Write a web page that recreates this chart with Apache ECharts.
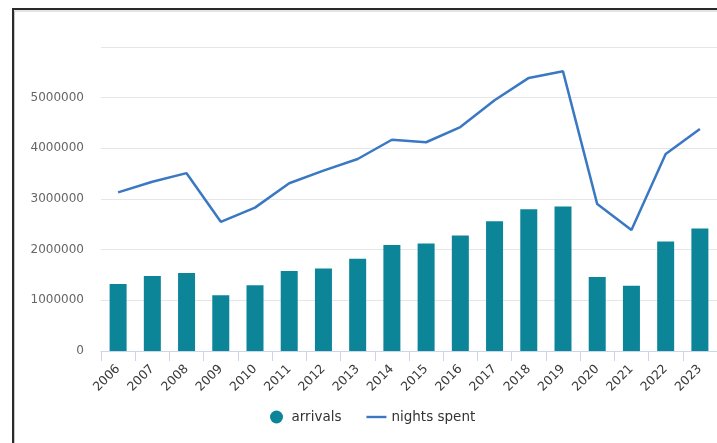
<!DOCTYPE html>
<html>
<head>
<meta charset="utf-8">
<title>Arrivals and nights spent</title>
<script src="https://cdn.jsdelivr.net/npm/echarts@6/dist/echarts.min.js"></script>
<style>
  html, body { margin: 0; padding: 0; background: #fff; }
  #chart { width: 717px; height: 443px; }
</style>
</head>
<body>
<div id="chart"></div>
<script>
// Years on the category axis
const years = ['2006','2007','2008','2009','2010','2011','2012','2013','2014',
               '2015','2016','2017','2018','2019','2020','2021','2022','2023'];

// Tourist arrivals per year
const arrivals = [1320000, 1480000, 1540000, 1100000, 1300000, 1580000, 1630000, 1820000, 2090000,
                  2120000, 2280000, 2560000, 2800000, 2850000, 1460000, 1290000, 2160000, 2420000];

// Nights spent per year
const nightsSpent = [3130000, 3340000, 3510000, 2550000, 2830000, 3310000, 3560000, 3790000, 4170000,
                     4120000, 4420000, 4950000, 5390000, 5520000, 2900000, 2390000, 3890000, 4380000];

// Value-axis tick settings
const yMin = 0;
const yMax = 6000000;
const yStep = 1000000;

const FONT = 'DejaVu Sans';
const BAR_COLOR = '#0c8599';
const LINE_COLOR = '#3a78c3';

const chart = echarts.init(document.getElementById('chart'), null, { renderer: 'canvas' });

chart.setOption({
  animation: false,
  backgroundColor: '#ffffff',
  textStyle: { fontFamily: FONT },
  grid: { left: 101, right: 0, top: 47, bottom: 92, containLabel: false },
  legend: {
    left: 265,
    top: 405,
    itemWidth: 20,
    itemHeight: 13,
    itemGap: 25,
    symbolKeepAspect: true,
    textStyle: { fontFamily: FONT, fontSize: 13.5, color: '#333333' },
    data: [
      { name: 'arrivals', icon: 'circle' },
      { name: 'nights spent', icon: 'path://M0,0 L20,0 L20,2.4 L0,2.4 Z' }
    ]
  },
  xAxis: {
    type: 'category',
    data: years,
    boundaryGap: true,
    axisLine: { lineStyle: { color: '#ccd6eb', width: 1 } },
    axisTick: { show: true, length: 10, lineStyle: { color: '#ccd6eb' } },
    axisLabel: {
      interval: 0,
      rotate: 45,
      margin: 16,
      fontFamily: FONT,
      fontSize: 12.5,
      color: '#3a3a3a'
    }
  },
  yAxis: {
    type: 'value',
    min: yMin,
    max: yMax,
    interval: yStep,
    axisLine: { show: false },
    axisTick: { show: false },
    splitLine: { lineStyle: { color: '#e6e6e6', width: 1 } },
    axisLabel: {
      showMaxLabel: false,
      margin: 17,
      fontFamily: FONT,
      fontSize: 12,
      color: '#666666',
      padding: [0, 0, 12, 0],
      formatter: v => String(v)
    }
  },
  series: [
    {
      name: 'arrivals',
      type: 'bar',
      data: arrivals,
      barWidth: 17,
      itemStyle: { color: BAR_COLOR }
    },
    {
      name: 'nights spent',
      type: 'line',
      data: nightsSpent,
      showSymbol: false,
      symbol: 'none',
      lineStyle: { color: LINE_COLOR, width: 2.5 },
      itemStyle: { color: LINE_COLOR }
    }
  ],
  // Panel frame along the top and left edges
  graphic: [
    {
      type: 'polyline',
      silent: true,
      shape: { points: [[14.5, 443], [14.5, 11], [717, 11]] },
      style: { stroke: '#c8c8c8', lineWidth: 1, fill: null }
    },
    {
      type: 'polyline',
      silent: true,
      shape: { points: [[13, 443], [13, 9], [717, 9]] },
      style: { stroke: '#2a2a2a', lineWidth: 2, fill: null }
    }
  ]
});
</script>
</body>
</html>
